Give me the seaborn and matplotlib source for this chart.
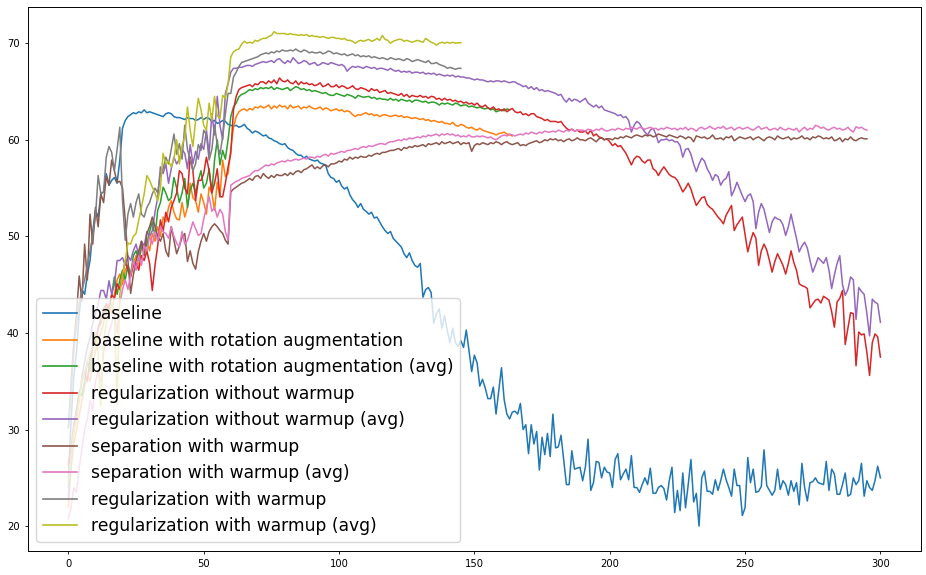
import numpy as np
import pandas as pd
import seaborn as sns
import matplotlib.pyplot as plt

# accuracy per epoch

baseline = [
    25.0, 31.0, 35.5, 38.0, 42.0, 44.5, 44.0, 46.0, 47.5, 50.5,
    52.7, 52.0, 54.4, 54.6, 56.5, 55.3, 55.8, 56.1, 55.5, 57.9,
    61.2, 62.0, 62.4, 62.6, 62.8, 62.7, 62.9, 62.8, 63.1, 62.8,
    62.9, 62.8, 62.7, 62.6, 62.5, 62.4, 62.7, 62.8, 62.7, 62.4,
    62.3, 62.3, 62.2, 62.1, 62.3, 62.2, 62.2, 62.0, 62.1, 62.3,
    62.1, 62.3, 62.2, 61.9, 62.0, 61.7, 61.8, 62.0, 61.9, 61.6,
    61.5, 61.4, 61.5, 61.3, 61.4, 61.6, 61.2, 61.0, 60.7, 60.9,
    60.8, 60.6, 60.4, 60.5, 60.2, 60.1, 59.9, 59.8, 59.6, 59.5,
    59.6, 59.2, 59.0, 58.9, 58.6, 58.4, 58.4, 58.1, 58.3, 58.0,
    57.9, 57.8, 57.9, 57.6, 57.5, 57.4, 56.5, 56.1, 56.0, 55.6,
    55.8, 55.2, 54.9, 55.1, 54.3, 53.8, 53.5, 53.0, 53.4, 52.8,
    52.6, 52.3, 52.5, 51.9, 52.0, 51.5, 51.0, 50.6, 50.3, 50.5,
    49.8, 49.5, 49.2, 48.9, 48.2, 47.8, 48.3, 47.5, 47.0, 46.8,
    47.2, 43.7, 44.5, 44.7, 44.2, 41.0, 42.0, 42.5, 40.5, 41.8,
    40.2, 39.0, 40.5, 39.0, 38.6, 39.2, 38.5, 40.3, 38.2, 36.0,
    37.7, 36.9, 34.5, 35.2, 34.3, 33.2, 33.2, 34.4, 31.6, 34.0,
    36.4, 33.1, 31.6, 31.1, 31.8, 31.9, 31.6, 32.7, 30.0, 30.5,
    27.5, 30.5, 28.5, 29.8, 25.8, 29.2, 27.4, 29.6, 27.2, 31.6,
    28.1, 28.2, 29.4, 26.9, 24.3, 24.3, 27.8, 25.9, 26.0, 26.1,
    24.7, 26.1, 29.0, 23.7, 24.5, 26.7, 26.6, 25.0, 26.1, 25.6,
    25.5, 24.0, 26.9, 27.5, 24.8, 25.4, 25.9, 24.8, 27.3, 24.0,
    24.0, 23.5, 24.3, 25.0, 24.3, 26.0, 23.4, 23.4, 24.0, 24.2,
    23.9, 22.7, 24.7, 26.1, 21.4, 23.7, 21.6, 25.5, 21.9, 24.3,
    26.9, 22.5, 23.4, 20.0, 25.0, 25.7, 23.6, 23.6, 23.3, 24.8,
    23.7, 24.7, 25.9, 24.8, 24.0, 23.1, 25.9, 24.2, 24.2, 21.1,
    21.9, 27.1, 24.5, 25.9, 23.5, 23.6, 24.1, 27.9, 24.2, 23.7,
    23.2, 23.7, 25.9, 23.8, 24.7, 24.3, 23.2, 24.7, 23.6, 24.5,
    22.2, 26.5, 24.0, 22.6, 24.5, 24.6, 25.0, 24.5, 24.4, 24.3,
    26.7, 23.7, 25.9, 25.4, 23.3, 23.3, 24.3, 25.5, 23.1, 23.3,
    25.0, 24.3, 24.7, 26.5, 23.1, 24.7, 24.0, 23.7, 24.7, 26.2,
    25.0,
]

baseline_rot = [
    22.0, 26.0, 28.5, 30.0, 31.5, 33.0, 34.5, 35.5, 35.0, 37.0,
    38.0, 39.5, 40.0, 41.0, 42.5, 43.0, 42.0, 44.0, 45.5, 46.1,
    45.0, 46.5, 47.0, 46.0, 47.2, 48.0, 46.8, 49.0, 48.2, 49.5,
    48.5, 50.3, 49.5, 51.0, 50.0, 52.0, 51.5, 53.0, 53.7, 52.5,
    51.8, 51.7, 53.5, 52.0, 53.0, 55.5, 54.0, 53.7, 52.5, 54.4,
    53.5, 52.3, 55.1, 54.5, 52.7, 55.6, 54.1, 57.9, 56.2, 56.5,
    59.0, 61.3, 62.4, 62.9, 63.1, 63.2, 63.0, 63.25, 63.1, 63.4,
    63.3, 63.5, 63.3, 63.4, 63.6, 63.2, 63.5, 63.3, 63.6, 63.4,
    63.5, 63.2, 63.6, 63.3, 63.4, 63.5, 63.2, 63.4, 63.3, 63.5,
    63.3, 63.2, 63.25, 63.4, 63.1, 63.3, 63.2, 63.0, 63.1, 63.2,
    63.0, 63.1, 62.9, 63.0, 62.9, 62.6, 62.4, 62.6, 62.55, 62.7,
    62.8, 62.6, 62.7, 62.5, 62.6, 62.4, 62.55, 62.6, 62.5, 62.4,
    62.5, 62.55, 62.4, 62.5, 62.3, 62.4, 62.3, 62.2, 62.3, 62.2,
    62.1, 62.2, 62.0, 62.1, 61.9, 62.0, 61.9, 61.8, 61.9, 61.7,
    61.7, 61.6, 61.8, 61.5, 61.4, 61.6, 61.5, 61.3, 61.2, 61.3,
    61.1, 61.0, 61.2, 61.0, 60.9, 60.8, 60.7, 60.65, 60.5, 60.65,
    60.7, 60.8, 60.6, 60.5, 60.4,
]

baseline_rot_avg = [
    24.0, 27.0, 30.0, 32.0, 34.0, 33.5, 35.0, 37.0, 36.0, 38.5,
    39.0, 40.5, 41.0, 42.5, 43.0, 42.0, 44.0, 45.8, 44.0, 45.5,
    46.5, 45.5, 47.0, 46.0, 48.0, 48.5, 47.5, 49.0, 48.6, 49.2,
    50.5, 51.5, 50.0, 52.7, 53.5, 55.1, 54.5, 53.7, 54.0, 56.1,
    55.0, 53.5, 54.5, 56.0, 53.0, 54.8, 55.5, 54.5, 55.8, 56.8,
    55.0, 55.5, 57.0, 54.5, 57.9, 60.0, 57.4, 58.9, 58.0, 60.0,
    62.4, 63.4, 63.8, 64.45, 64.7, 64.8, 65.0, 65.2, 65.1, 65.3,
    65.2, 65.4, 65.3, 65.4, 65.3, 65.5, 65.2, 65.4, 65.3, 65.2,
    65.3, 65.4, 65.1, 65.3, 65.5, 65.4, 65.2, 65.3, 65.1, 65.2,
    65.0, 65.1, 65.0, 64.9, 64.8, 64.9, 64.7, 64.6, 64.6, 64.8,
    64.7, 64.6, 64.5, 64.7, 64.6, 64.5, 64.3, 64.6, 64.5, 64.4,
    64.45, 64.5, 64.3, 64.4, 64.2, 64.3, 64.2, 64.2, 64.1, 64.3,
    64.1, 64.2, 64.0, 64.2, 64.1, 64.0, 64.1, 63.9, 64.1, 64.1,
    64.0, 63.9, 64.0, 63.8, 63.9, 63.9, 63.8, 63.6, 63.8, 63.7,
    63.8, 63.7, 63.6, 63.8, 63.7, 63.5, 63.6, 63.6, 63.4, 63.5,
    63.4, 63.3, 63.4, 63.25, 63.2, 63.3, 63.1, 63.2, 62.9, 63.0,
    63.1, 63.0, 63.2, 63.1,
]

reg_no_warmup = [
    26.4, 28.0, 30.5, 32.0, 33.5, 35.0, 36.0, 35.0, 37.5, 38.5,
    39.0, 40.5, 41.5, 42.0, 43.0, 42.5, 44.0, 43.5, 45.1, 44.5,
    46.0, 47.5, 46.5, 45.8, 47.0, 47.2, 46.5, 48.0, 47.5, 48.5,
    47.2, 44.4, 47.0, 49.0, 51.7, 50.5, 52.5, 51.5, 53.0, 53.7,
    54.5, 56.8, 56.5, 55.0, 54.4, 58.2, 56.8, 53.7, 55.8, 55.8,
    56.5, 58.2, 56.8, 54.5, 55.5, 57.0, 54.1, 54.1, 55.5, 57.2,
    58.6, 63.1, 64.5, 65.2, 65.4, 65.5, 65.6, 65.7, 65.5, 65.8,
    65.7, 66.0, 66.0, 65.8, 66.1, 65.9, 66.2, 65.8, 66.4, 66.1,
    66.0, 66.2, 65.9, 65.8, 66.1, 65.7, 66.0, 65.8, 65.9, 65.7,
    65.8, 65.6, 65.7, 65.9, 65.5, 65.6, 65.8, 65.5, 65.5, 65.7,
    65.4, 65.6, 65.5, 65.3, 65.4, 65.6, 65.3, 65.2, 65.4, 65.3,
    65.2, 65.0, 65.3, 65.1, 65.2, 64.9, 65.0, 65.1, 64.8, 64.9,
    64.8, 64.7, 64.6, 64.8, 64.5, 64.7, 64.4, 64.6, 64.5, 64.45,
    64.6, 64.4, 64.5, 64.3, 64.5, 64.45, 64.2, 64.3, 64.1, 64.3,
    64.1, 64.2, 64.0, 64.1, 63.9, 64.0, 63.8, 63.9, 63.7, 63.8,
    63.6, 63.8, 63.5, 63.4, 63.6, 63.3, 63.2, 63.4, 63.1, 63.2,
    63.0, 63.2, 62.9, 63.1, 63.25, 62.9, 62.8, 62.9, 62.6, 62.7,
    62.5, 62.7, 62.7, 62.4, 62.3, 62.2, 62.0, 62.1, 61.9, 61.9,
    61.9, 61.8, 61.9, 61.5, 61.2, 61.0, 61.1, 60.9, 61.0, 60.8,
    60.8, 60.9, 60.6, 61.0, 60.4, 60.6, 60.3, 60.2, 60.0, 60.1,
    59.8, 59.4, 59.6, 59.3, 59.4, 59.0, 58.6, 58.0, 57.4, 58.0,
    58.3, 58.2, 57.8, 57.6, 57.9, 57.9, 57.0, 56.8, 56.3, 56.8,
    57.2, 56.8, 56.4, 56.2, 56.1, 55.8, 55.2, 54.6, 55.0, 55.5,
    54.9, 54.0, 53.2, 53.6, 54.0, 54.1, 53.3, 53.0, 52.8, 52.4,
    52.0, 51.7, 51.3, 52.2, 52.7, 53.2, 50.6, 51.2, 51.6, 52.0,
    50.2, 48.4, 49.5, 50.4, 49.8, 47.0, 48.5, 49.2, 48.6, 47.5,
    46.3, 47.4, 48.2, 47.6, 47.0, 46.1, 47.2, 48.5, 47.3, 46.5,
    45.1, 44.9, 44.8, 44.6, 42.6, 43.0, 43.4, 43.5, 43.1, 43.8,
    43.6, 43.4, 42.2, 40.6, 43.2, 43.6, 44.4, 38.8, 40.5, 42.1,
    42.0, 36.6, 40.1, 39.8, 39.9, 38.0, 35.6, 39.0, 39.9, 39.6,
    37.5,
]

reg_no_warmup_avg = [
    23.0, 27.0, 30.0, 31.5, 33.0, 35.5, 37.0, 38.5, 39.5, 41.0,
    42.0, 43.0, 44.4, 44.4, 43.5, 45.4, 44.0, 45.0, 47.5, 47.5,
    47.8, 47.0, 48.0, 47.5, 48.5, 49.2, 48.0, 49.5, 49.0, 50.5,
    50.0, 50.6, 52.5, 54.0, 57.2, 56.5, 57.5, 55.5, 57.0, 58.2,
    57.5, 58.0, 59.0, 58.6, 57.0, 59.5, 57.5, 58.8, 58.0, 59.6,
    59.0, 61.0, 58.5, 62.7, 60.5, 64.5, 61.5, 60.0, 64.8, 65.8,
    67.0, 67.4, 67.4, 67.5, 67.5, 67.6, 67.7, 67.7, 67.6, 67.8,
    67.9, 68.0, 68.1, 68.0, 68.1, 68.2, 68.0, 68.3, 68.4, 68.1,
    67.9, 68.2, 68.0, 68.5, 68.2, 67.9, 68.0, 68.2, 68.1, 67.8,
    67.9, 68.0, 67.7, 67.8, 68.0, 67.9, 67.8, 68.0, 67.9, 67.8,
    67.7, 67.8, 67.6, 67.1, 67.4, 67.6, 67.5, 67.6, 67.5, 67.4,
    67.6, 67.5, 67.4, 67.5, 67.3, 67.4, 67.4, 67.3, 67.2, 67.4,
    67.2, 67.1, 67.2, 67.0, 67.1, 67.0, 67.1, 66.9, 67.0, 67.0,
    66.9, 67.0, 66.8, 66.9, 66.8, 66.9, 66.7, 66.8, 66.7, 66.6,
    66.7, 66.6, 66.7, 66.5, 66.6, 66.5, 66.5, 66.4, 66.4, 66.3,
    66.2, 66.3, 66.2, 66.2, 66.1, 66.0, 66.1, 66.0, 66.1, 66.1,
    66.0, 66.1, 66.0, 65.9, 66.0, 66.0, 65.8, 65.7, 65.5, 65.6,
    65.3, 65.5, 65.2, 65.4, 65.1, 65.2, 65.0, 65.1, 65.0, 64.9,
    64.8, 64.6, 64.7, 64.2, 63.9, 64.3, 64.0, 64.2, 64.1, 63.9,
    64.1, 64.3, 63.8, 63.6, 63.4, 63.6, 63.3, 63.5, 63.1, 63.0,
    62.9, 62.8, 62.7, 62.5, 62.6, 62.3, 62.4, 62.0, 60.8, 61.5,
    61.9, 61.7, 61.2, 60.8, 60.5, 61.0, 61.2, 60.6, 59.7, 60.0,
    60.0, 60.1, 59.9, 60.0, 59.8, 59.8, 59.4, 58.2, 59.0, 59.1,
    58.5, 57.5, 56.7, 57.5, 58.1, 57.8, 57.0, 56.5, 55.8, 56.4,
    56.2, 55.3, 55.8, 56.0, 56.7, 54.2, 54.8, 55.6, 54.9, 54.2,
    53.6, 54.2, 54.4, 53.6, 50.8, 52.5, 53.4, 52.8, 51.6, 50.4,
    51.5, 52.0, 51.8, 51.7, 51.2, 50.1, 51.0, 52.3, 51.0, 49.8,
    48.4, 49.0, 49.4, 48.8, 47.5, 46.3, 47.0, 47.8, 47.5, 47.2,
    47.8, 46.5, 44.6, 46.0, 47.2, 48.0, 45.0, 43.9, 44.5, 45.8,
    45.5, 41.4, 44.7, 44.3, 44.0, 42.0, 39.7, 43.5, 43.2, 43.0,
    41.1,
]

sep_warmup = [
    30.2, 35.0, 39.0, 42.0, 45.9, 43.3, 49.2, 45.5, 52.3, 49.2,
    53.0, 51.0, 54.4, 53.5, 56.2, 55.3, 57.9, 56.8, 55.6, 55.7,
    55.0, 51.7, 47.5, 44.1, 46.0, 47.5, 48.5, 49.5, 48.0, 50.3,
    51.0, 52.0, 51.0, 50.0, 49.5, 50.3, 48.5, 47.9, 51.0, 49.6,
    48.2, 49.0, 49.9, 50.3, 47.4, 48.5, 47.2, 46.6, 48.4, 49.5,
    50.3, 49.5, 50.5, 51.0, 51.3, 51.0, 50.6, 50.3, 49.6, 49.2,
    54.6, 54.9, 55.1, 55.3, 55.5, 55.6, 55.8, 56.0, 55.8, 56.2,
    56.3, 56.0, 56.5, 56.2, 56.0, 56.3, 56.1, 56.4, 56.3, 56.3,
    56.5, 56.3, 56.6, 56.4, 56.7, 56.8, 56.6, 56.9, 57.0, 57.2,
    57.4, 57.0, 57.2, 57.0, 57.3, 57.4, 57.2, 57.5, 57.5, 57.6,
    57.8, 57.7, 58.0, 57.9, 58.2, 58.0, 58.2, 58.1, 58.3, 58.2,
    58.2, 58.4, 58.3, 58.5, 58.6, 58.5, 58.7, 58.7, 58.8, 58.9,
    58.9, 59.0, 59.1, 58.9, 59.2, 59.1, 59.3, 59.2, 59.4, 59.3,
    59.4, 59.5, 59.3, 59.6, 59.5, 59.6, 59.7, 59.5, 59.8, 59.6,
    59.7, 59.8, 59.6, 59.7, 59.8, 59.5, 59.7, 59.6, 59.7, 58.8,
    59.4, 59.6, 59.5, 59.7, 59.6, 59.5, 59.7, 59.6, 59.8, 59.7,
    59.5, 59.7, 59.8, 59.6, 59.5, 59.6, 59.7, 59.4, 59.5, 59.4,
    59.6, 59.7, 59.8, 59.9, 59.7, 59.8, 60.0, 59.9, 60.1, 60.0,
    60.1, 59.9, 60.0, 59.8, 60.0, 60.1, 59.9, 60.0, 60.2, 60.0,
    60.0, 59.9, 60.1, 60.2, 60.0, 59.8, 60.1, 60.2, 60.0, 60.1,
    60.1, 60.0, 60.2, 60.1, 60.3, 60.2, 60.4, 60.3, 60.2, 60.4,
    60.5, 60.4, 60.3, 60.5, 60.4, 60.5, 60.3, 60.4, 60.6, 60.5,
    60.4, 60.3, 60.5, 60.4, 60.3, 60.2, 60.4, 60.3, 60.1, 60.3,
    60.2, 59.8, 60.4, 60.3, 60.2, 60.3, 60.1, 60.2, 60.5, 60.1,
    60.1, 60.2, 60.0, 60.3, 60.2, 60.4, 59.9, 60.1, 60.3, 60.2,
    60.1, 60.2, 60.3, 60.0, 60.2, 60.3, 60.1, 59.9, 60.2, 60.3,
    60.2, 60.0, 60.4, 60.2, 60.1, 60.2, 60.3, 60.0, 60.2, 60.1,
    60.2, 60.4, 60.1, 60.2, 60.0, 60.3, 60.2, 60.4, 60.3, 60.1,
    60.2, 60.1, 60.3, 59.9, 60.0, 60.2, 59.8, 60.1, 60.0, 60.3,
    60.0, 59.9, 60.1, 60.2, 60.1, 60.1,
]

sep_warmup_avg = [
    20.8, 22.0, 24.0, 23.5, 26.0, 28.0, 30.0, 31.0, 33.0, 32.0,
    35.0, 36.0, 35.0, 38.0, 39.0, 40.0, 41.0, 42.0, 40.0, 43.0,
    44.5, 45.5, 44.5, 46.0, 47.5, 46.5, 48.0, 47.0, 49.0, 48.5,
    50.0, 49.2, 50.5, 49.5, 51.0, 50.5, 50.3, 49.8, 51.0, 50.0,
    49.3, 48.9, 50.5, 49.2, 49.6, 50.5, 51.5, 50.8, 50.1, 50.3,
    51.8, 53.0, 54.1, 52.6, 53.0, 52.0, 52.8, 52.3, 50.5, 49.6,
    55.3, 55.5, 55.7, 55.8, 56.0, 56.1, 56.2, 56.3, 56.6, 56.8,
    56.8, 57.0, 57.2, 57.4, 57.3, 57.5, 57.4, 57.6, 57.7, 57.8,
    57.7, 57.9, 57.8, 57.9, 58.0, 57.9, 58.0, 58.1, 58.0, 58.2,
    58.2, 58.1, 58.3, 58.2, 58.4, 58.5, 58.3, 58.6, 58.5, 58.6,
    58.7, 58.8, 58.7, 58.9, 58.9, 59.0, 59.1, 59.0, 59.2, 59.3,
    59.2, 59.4, 59.3, 59.4, 59.5, 59.6, 59.6, 59.5, 59.7, 59.8,
    59.8, 59.9, 60.0, 59.9, 60.1, 60.0, 60.2, 60.1, 60.2, 60.3,
    60.2, 60.4, 60.3, 60.5, 60.4, 60.5, 60.6, 60.4, 60.6, 60.5,
    60.65, 60.5, 60.6, 60.4, 60.5, 60.3, 60.4, 60.3, 60.5, 60.3,
    60.3, 60.4, 60.3, 60.4, 60.3, 60.2, 60.3, 60.1, 60.0, 60.2,
    60.4, 60.5, 60.4, 60.6, 60.5, 60.4, 60.5, 60.6, 60.5, 60.7,
    60.6, 60.8, 60.7, 60.6, 60.8, 60.7, 60.9, 60.8, 60.8, 60.9,
    60.8, 61.0, 60.9, 60.8, 61.0, 60.9, 61.1, 60.9, 61.0, 61.0,
    61.0, 60.9, 61.1, 61.0, 60.9, 61.1, 61.0, 61.2, 61.0, 60.9,
    61.0, 61.1, 61.0, 61.2, 61.1, 61.0, 61.2, 61.1, 61.3, 61.2,
    61.1, 61.3, 61.2, 61.1, 61.2, 61.3, 61.1, 61.2, 61.0, 61.2,
    61.1, 61.3, 61.2, 61.1, 61.2, 61.0, 61.2, 61.1, 61.3, 61.0,
    61.2, 61.1, 60.9, 61.2, 61.3, 61.1, 61.2, 61.4, 61.2, 61.1,
    61.3, 61.2, 61.4, 61.1, 61.2, 61.3, 61.0, 61.2, 61.3, 61.1,
    61.2, 61.3, 61.1, 61.0, 61.2, 61.4, 61.1, 61.2, 61.3, 61.0,
    61.1, 61.2, 61.0, 61.3, 61.1, 61.0, 61.2, 61.1, 61.0, 61.2,
    60.8, 61.1, 61.3, 61.0, 61.2, 61.1, 61.5, 61.4, 61.2, 61.3,
    61.1, 61.0, 61.2, 61.3, 61.1, 61.2, 61.0, 61.1, 61.3, 61.0,
    60.8, 61.35, 61.2, 61.3, 61.1, 61.0,
]

reg_warmup = [
    30.2, 34.0, 38.0, 41.0, 43.0, 44.4, 45.5, 47.0, 48.5, 50.0,
    52.0, 56.3, 54.4, 54.6, 58.2, 59.3, 58.7, 56.8, 59.0, 61.3,
    53.7, 49.6, 52.3, 53.4, 52.0, 53.5, 54.4, 52.3, 52.0, 53.0,
    53.5, 54.4, 55.0, 54.5, 56.5, 57.0, 58.2, 57.5, 59.0, 60.6,
    58.5, 59.6, 58.0, 61.5, 59.0, 58.0, 56.8, 57.5, 59.5, 58.9,
    61.0, 60.5, 57.9, 59.0, 61.5, 59.5, 58.5, 60.3, 62.7, 64.8,
    64.8, 66.5, 67.0, 67.6, 68.0, 68.1, 68.2, 68.3, 68.4, 68.5,
    68.6, 68.8, 68.9, 69.0, 68.9, 69.1, 69.0, 69.2, 69.1, 69.3,
    69.2, 69.2, 69.3, 69.2, 69.4, 69.2, 69.1, 69.3, 69.2, 69.0,
    69.1, 69.0, 69.0, 69.1, 68.9, 69.0, 69.2, 69.1, 68.9, 69.0,
    68.9, 68.8, 68.9, 68.7, 68.8, 68.9, 68.7, 68.8, 68.6, 68.7,
    68.6, 68.7, 68.5, 68.6, 68.5, 68.4, 68.5, 68.4, 68.3, 68.5,
    68.4, 68.3, 68.4, 68.3, 68.2, 68.4, 68.3, 68.1, 68.2, 68.3,
    68.2, 68.1, 68.0, 68.2, 67.9, 67.9, 68.0, 67.8, 67.7, 67.6,
    67.4, 67.5, 67.4, 67.3, 67.4, 67.4,
]

reg_warmup_avg = [
    24.6, 27.0, 30.0, 31.0, 33.0, 35.0, 36.0, 37.0, 38.0, 38.5,
    40.0, 38.0, 32.4, 39.0, 41.0, 42.0, 43.0, 42.0, 32.6, 44.0,
    46.0, 47.5, 49.3, 49.2, 50.0, 50.3, 51.7, 53.0, 54.4, 56.3,
    55.8, 55.1, 54.5, 53.7, 55.0, 58.6, 57.5, 57.8, 57.2, 58.0,
    60.0, 57.5, 59.4, 60.3, 63.4, 61.0, 59.3, 62.0, 64.3, 63.1,
    61.5, 61.0, 63.8, 62.0, 64.5, 62.5, 62.2, 64.6, 64.3, 65.8,
    68.6, 69.1, 69.3, 69.4, 69.9, 70.2, 70.0, 70.1, 70.0, 70.3,
    70.2, 70.4, 70.5, 70.5, 70.7, 70.8, 71.2, 71.0, 71.0, 71.0,
    71.0, 70.9, 71.0, 70.9, 70.9, 70.8, 70.9, 70.8, 70.9, 70.7,
    70.8, 70.7, 70.7, 70.6, 70.7, 70.6, 70.5, 70.6, 70.6, 70.5,
    70.5, 70.4, 70.5, 70.3, 70.3, 70.2, 70.0, 70.2, 70.3, 70.2,
    70.3, 70.4, 70.2, 70.3, 70.5, 70.3, 70.8, 70.4, 70.3, 70.0,
    70.2, 70.3, 70.4, 70.4, 70.2, 70.3, 70.2, 70.1, 70.2, 70.3,
    70.2, 70.1, 70.5, 70.3, 70.1, 70.0, 69.8, 70.0, 70.1, 70.0,
    70.1, 70.0, 70.1, 70.0, 70.05, 70.05,
]

labels = [
    'baseline',
    'baseline with rotation augmentation',
    'baseline with rotation augmentation (avg)',
    'regularization without warmup',
    'regularization without warmup (avg)',
    'separation with warmup',
    'separation with warmup (avg)',
    'regularization with warmup',
    'regularization with warmup (avg)',
]
series = [baseline, baseline_rot, baseline_rot_avg, reg_no_warmup,
          reg_no_warmup_avg, sep_warmup, sep_warmup_avg, reg_warmup,
          reg_warmup_avg]

frames = []
for name, vals in zip(labels, series):
    frames.append(pd.DataFrame({'epoch': np.arange(len(vals)),
                                'acc': vals, 'run': name}))
df = pd.concat(frames, ignore_index=True)

fig = plt.figure(figsize=(9.26, 5.75), dpi=100)
ax = fig.add_axes([0.030, 0.042, 0.9646, 0.946])

sns.lineplot(data=df, x='epoch', y='acc', hue='run', hue_order=labels,
             palette='tab10', linewidth=1.1, ax=ax)

ax.set_xlabel('')
ax.set_ylabel('')
ax.tick_params(labelsize=7.2, length=2.5, width=0.6)
for s in ax.spines.values():
    s.set_linewidth(0.7)
leg = ax.legend(loc='lower left', fontsize=12.3)
for line in leg.get_lines():
    line.set_linewidth(1.2)

plt.savefig('out.png', dpi=100)
